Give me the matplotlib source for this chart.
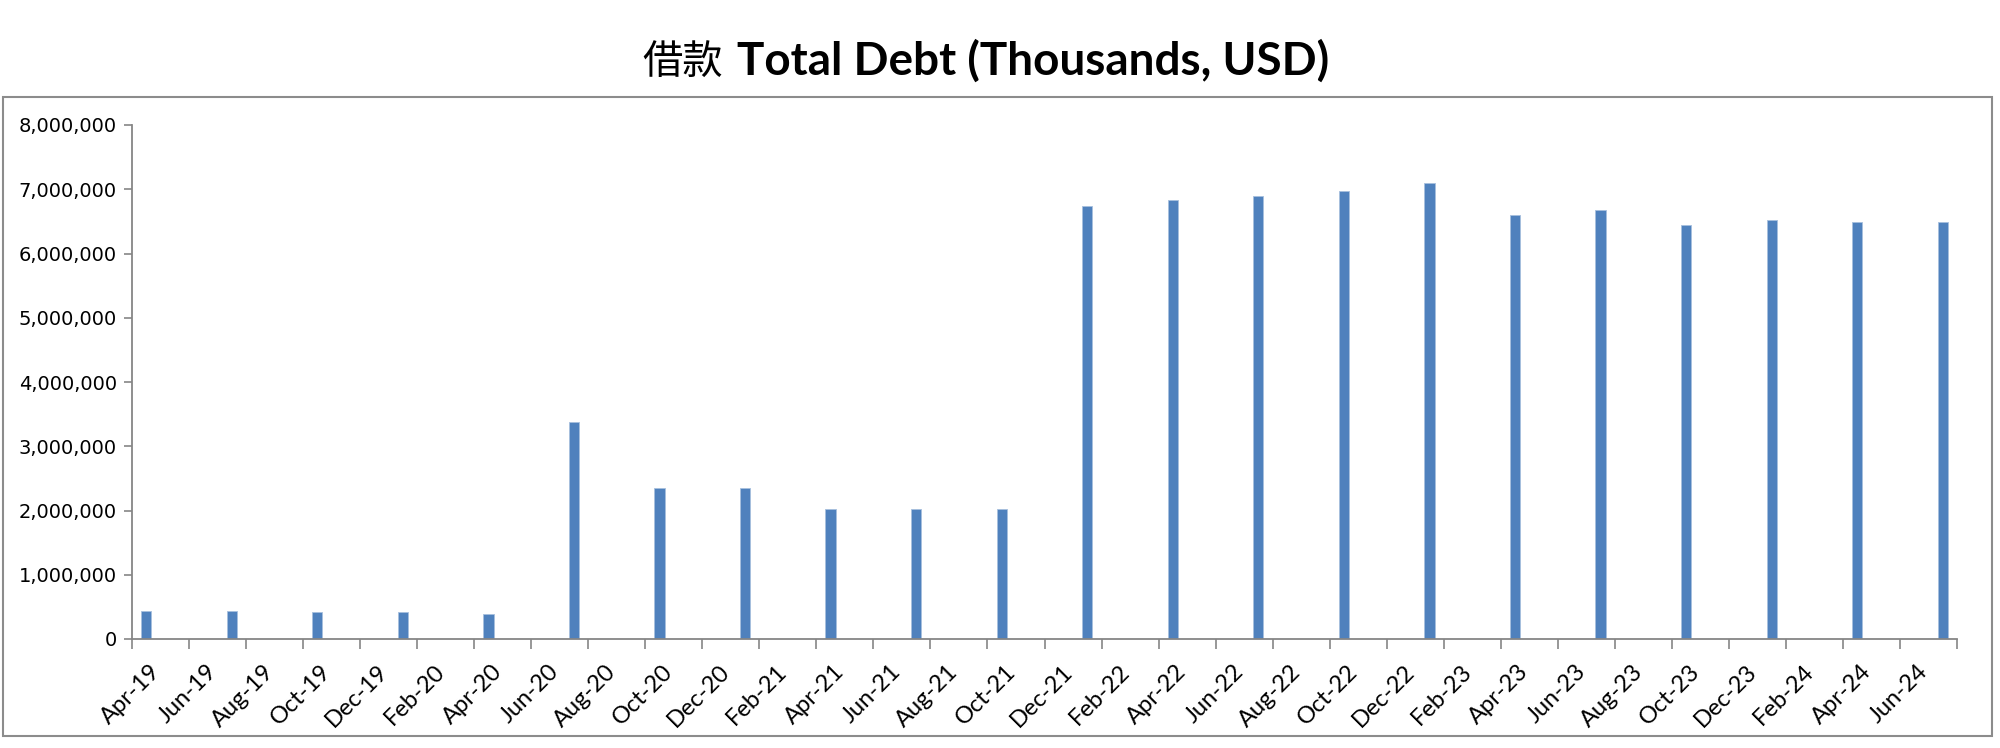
import matplotlib
matplotlib.use("Agg")
import matplotlib.pyplot as plt
import matplotlib.patches as mpatches
import matplotlib.transforms as mtrans
from matplotlib.ticker import FuncFormatter, MultipleLocator, NullFormatter

# ---------------- data ----------------
months = ["2019-04", "2019-07", "2019-10", "2020-01", "2020-04", "2020-07",
          "2020-10", "2021-01", "2021-04", "2021-07", "2021-10", "2022-01",
          "2022-04", "2022-07", "2022-10", "2023-01", "2023-04", "2023-07",
          "2023-10", "2024-01", "2024-04", "2024-07"]
total_debt = [441000, 441000, 415000, 415000, 389000, 3370000,
              2355000, 2355000, 2030000, 2030000, 2030000, 6735000,
              6840000, 6900000, 6980000, 7090000, 6595000, 6680000,
              6440000, 6520000, 6485000, 6485000]
tick_labels = ["Apr-19", "Jun-19", "Aug-19", "Oct-19", "Dec-19",
               "Feb-20", "Apr-20", "Jun-20", "Aug-20", "Oct-20", "Dec-20",
               "Feb-21", "Apr-21", "Jun-21", "Aug-21", "Oct-21", "Dec-21",
               "Feb-22", "Apr-22", "Jun-22", "Aug-22", "Oct-22", "Dec-22",
               "Feb-23", "Apr-23", "Jun-23", "Aug-23", "Oct-23", "Dec-23",
               "Feb-24", "Apr-24", "Jun-24"]
axis_start = "2019-04"
axis_end = "2024-08"
title_cn = "借款"
title_en = "Total Debt (Thousands, USD)"


def month_index(s):
    y, m = s.split("-")
    y0, m0 = axis_start.split("-")
    return (int(y) - int(y0)) * 12 + int(m) - int(m0)


x = [month_index(m) + 0.5 for m in months]
n_months = month_index(axis_end)

# ---------------- figure ----------------
fig = plt.figure(figsize=(20, 7.48), dpi=100)
ax = fig.add_axes([132 / 2000, 1 - 639 / 748, (1957 - 132) / 2000, (639 - 125) / 748])

ax.bar(x, total_debt, width=0.36, color="#4F81BD", edgecolor="#A7BFDE",
       linewidth=0.6, zorder=2)

ax.set_xlim(0, n_months)
ax.set_ylim(0, 8000000)

axis_gray = "#868686"
for side in ("top", "right"):
    ax.spines[side].set_visible(False)
for side in ("left", "bottom"):
    ax.spines[side].set_color(axis_gray)
    ax.spines[side].set_linewidth(1.3)

ax.yaxis.set_major_locator(MultipleLocator(1000000))
ax.yaxis.set_major_formatter(FuncFormatter(lambda v, p: f"{int(v):,}"))
ax.tick_params(axis="y", direction="out", length=6, width=1.2, color=axis_gray,
               labelsize=14, pad=5, labelcolor="#000000")

xticks = list(range(0, n_months + 1, 2))
ax.set_xticks(xticks)
ax.xaxis.set_major_formatter(NullFormatter())
ax.tick_params(axis="x", direction="out", length=7, width=1.2, color=axis_gray)

# rotated month labels, anchored just below-right of each tick
xlab_trans = (mtrans.blended_transform_factory(ax.transData, ax.transAxes)
              + mtrans.ScaledTranslation(17 / 100, -22 / 100, fig.dpi_scale_trans))
for xt, lab in zip(xticks, tick_labels):
    ax.text(xt, 0, lab, transform=xlab_trans, rotation=45, ha="right", va="top",
            rotation_mode="anchor", fontsize=17, family="Lato", color="#000000",
            clip_on=False)

# ---------------- title ----------------
t_en = fig.text(737 / 2000, 1 - 75 / 748, title_en, fontsize=33, fontweight="bold",
                family="Lato", ha="left", va="baseline", color="#000000")
t_cn = fig.text(723 / 2000, 1 - 75 / 748, title_cn, fontsize=29, family="Noto Sans CJK SC",
                ha="right", va="baseline", color="#000000")

# ---------------- border ----------------
border = mpatches.Rectangle((3 / 2000, 1 - 736 / 748), (1992 - 3) / 2000, (736 - 97) / 748,
                            transform=fig.transFigure, fill=False, edgecolor="#8C8C8C",
                            linewidth=1.5)
fig.patches.append(border)

fig.savefig("out.png", dpi=100, facecolor="white")
